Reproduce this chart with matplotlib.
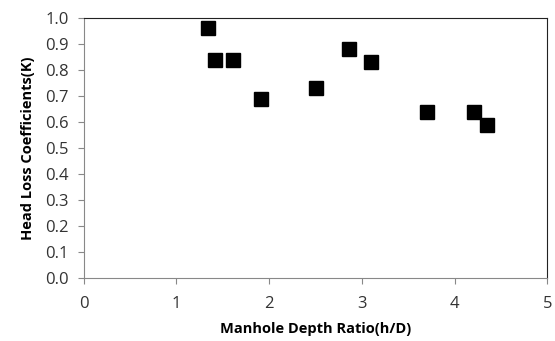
import numpy as np
from matplotlib import pyplot as plt

# manhole depth ratio vs head loss coefficient
depth_ratio = [1.34, 1.42, 1.61, 1.91, 2.50, 2.86, 3.10, 3.70, 4.21, 4.35]
head_loss = [0.96, 0.84, 0.84, 0.69, 0.73, 0.88, 0.83, 0.64, 0.64, 0.59]

x_ticks = [0, 1, 2, 3, 4, 5]
y_ticks = np.round(np.arange(0, 1.01, 0.1), 1)

plt.rcParams['font.family'] = ['Open Sans', 'DejaVu Sans']

fig = plt.figure(figsize=(5.55, 3.41), dpi=100)
ax = fig.add_axes([0.151, 0.185, 0.835, 0.762])

ax.plot(depth_ratio, head_loss, "s", color="black", markersize=9.5)

ax.set_xlim(0, 5)
ax.set_ylim(0, 1.0)
ax.set_xticks(x_ticks)
ax.set_yticks(y_ticks)
ax.set_yticklabels([f"{v:.1f}" for v in y_ticks])
ax.tick_params(axis="both", labelsize=12, color="#888888", length=4, width=0.8, labelcolor="#333333")
ax.tick_params(axis="x", pad=9)
ax.tick_params(axis="y", pad=7)

for side in ["left", "bottom"]:
    ax.spines[side].set_color("#888888")
for side in ["top", "right"]:
    ax.spines[side].set_color("#222222")

ax.set_xlabel("Manhole Depth Ratio(h/D)", fontsize=10.5, fontweight="bold", labelpad=7)
ax.set_ylabel("Head Loss Coefficients(K)", fontsize=10.5, fontweight="bold", labelpad=7)

fig.savefig("out.png", dpi=100)
